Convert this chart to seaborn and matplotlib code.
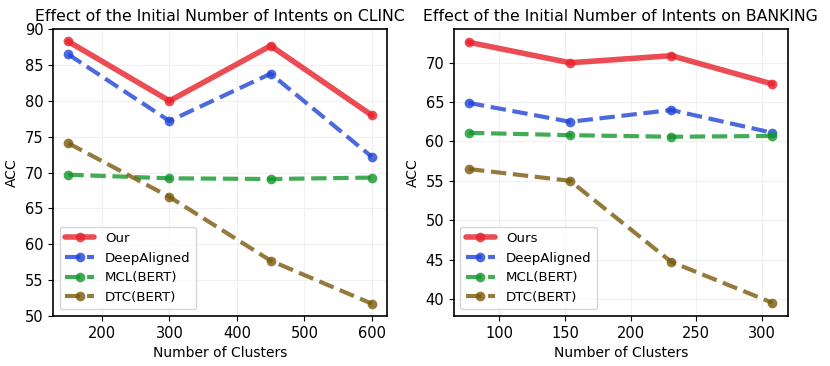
import pandas as pd
import matplotlib
matplotlib.use("Agg")
import matplotlib.pyplot as plt
import seaborn as sns

# ---- data ----
clinc_clusters = [150, 300, 450, 600]
clinc_ours = [88.3, 80.0, 87.7, 78.0]
clinc_deepaligned = [86.5, 77.2, 83.8, 72.2]
clinc_mcl = [69.7, 69.2, 69.1, 69.3]
clinc_dtc = [74.1, 66.6, 57.7, 51.7]

banking_clusters = [77, 154, 231, 308]
banking_ours = [72.6, 70.0, 70.9, 67.3]
banking_deepaligned = [64.9, 62.5, 64.0, 61.1]
banking_mcl = [61.1, 60.8, 60.6, 60.7]
banking_dtc = [56.5, 55.0, 44.7, 39.5]

sns.set_style("ticks")
plt.rcParams["font.family"] = ["DejaVu Sans"]
plt.rcParams["text.color"] = "black"
plt.rcParams["axes.labelcolor"] = "black"
plt.rcParams["xtick.color"] = "black"
plt.rcParams["ytick.color"] = "black"

styles = {
    "ours": dict(color="#e8202a", ls="-", lw=4),
    "deep": dict(color="#1f45d6", ls="--", lw=3),
    "mcl": dict(color="#13962a", ls="--", lw=3),
    "dtc": dict(color="#7a5a0c", ls="--", lw=3),
}


def plot_panel(ax, x, series, title, ylim=None):
    for key, label, vals in series:
        df = pd.DataFrame({"x": x, "y": vals})
        st = styles[key]
        sns.lineplot(data=df, x="x", y="y", ax=ax, color=st["color"],
                     linestyle=st["ls"], linewidth=st["lw"], marker="o",
                     markersize=7, markeredgewidth=0, alpha=0.8, label=label)
    ax.set_title(title, fontsize=11.3)
    ax.set_xlabel("Number of Clusters", fontsize=10)
    ax.set_ylabel("ACC", fontsize=10)
    ax.tick_params(labelsize=10.5)
    ax.grid(True, color="#f0f0f0", linewidth=0.8)
    for s in ax.spines.values():
        s.set_color("black")
        s.set_linewidth(1.2)
    if ylim is not None:
        ax.set_ylim(*ylim)
    ax.legend(loc="lower left", fontsize=9.6, handlelength=2.2, framealpha=0.8)


fig, axes = plt.subplots(1, 2, figsize=(8.3, 3.66), dpi=100)

plot_panel(axes[0], clinc_clusters, [
    ("ours", "Our", clinc_ours),
    ("deep", "DeepAligned", clinc_deepaligned),
    ("mcl", "MCL(BERT)", clinc_mcl),
    ("dtc", "DTC(BERT)", clinc_dtc),
], "Effect of the Initial Number of Intents on CLINC", ylim=(50, 90))

plot_panel(axes[1], banking_clusters, [
    ("ours", "Ours", banking_ours),
    ("deep", "DeepAligned", banking_deepaligned),
    ("mcl", "MCL(BERT)", banking_mcl),
    ("dtc", "DTC(BERT)", banking_dtc),
], "Effect of the Initial Number of Intents on BANKING")

plt.subplots_adjust(left=0.064, right=0.949, top=0.92, bottom=0.137, wspace=0.2)
fig.savefig("out.png", dpi=100)
